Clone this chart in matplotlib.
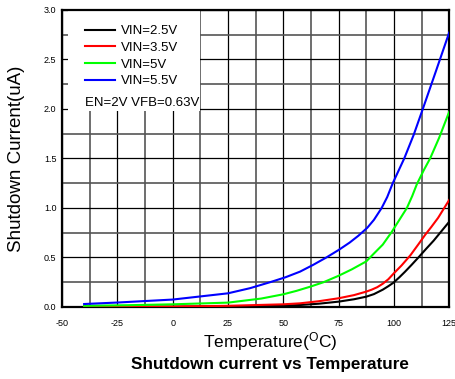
import matplotlib
matplotlib.use("Agg")
import matplotlib.pyplot as plt
from matplotlib.patches import Rectangle
from matplotlib.ticker import MultipleLocator

plt.rcParams['font.family'] = ['Liberation Sans', 'DejaVu Sans']

# Shutdown current (uA) versus temperature (degC) for each input voltage
temp_25 = [-40, 0, 25, 50, 57.6, 66, 75, 82, 87.5, 91, 95, 97.5, 99.8, 102.5, 105,
           108, 111.1, 114.5, 118, 121.5, 125]
cur_25 = [0.001, 0.003, 0.006, 0.014, 0.02, 0.033, 0.054, 0.078, 0.104, 0.13, 0.175,
          0.21, 0.245, 0.3, 0.355, 0.425, 0.5, 0.585, 0.67, 0.765, 0.86]

temp_35 = [-40, 0, 25, 50, 57.6, 66, 75, 82, 87.5, 90, 92.5, 95, 97.5, 100, 103.5,
           107.4, 111, 114.2, 117, 120, 122.5, 125]
cur_35 = [0.003, 0.005, 0.012, 0.027, 0.037, 0.058, 0.088, 0.12, 0.155, 0.175, 0.2,
          0.235, 0.28, 0.34, 0.42, 0.52, 0.63, 0.73, 0.81, 0.9, 0.99, 1.08]

temp_50 = [-40, -20, 0, 25, 40, 50, 56, 62.2, 68.2, 75, 81, 87.5, 91, 95, 99.1,
           102.5, 105.9, 108.3, 110.4, 113.5, 116.4, 120.5, 125]
cur_50 = [0.012, 0.018, 0.027, 0.044, 0.085, 0.128, 0.163, 0.205, 0.25, 0.315, 0.38,
          0.46, 0.54, 0.63, 0.76, 0.88, 1.0, 1.12, 1.24, 1.38, 1.5, 1.71, 1.97]

temp_55 = [-40, -25, 0, 25, 35, 44, 51, 57.6, 63.5, 69.5, 75, 80, 84, 88, 91, 94.5,
           97, 99.5, 102, 104.7, 109, 113.1, 119, 125]
cur_55 = [0.03, 0.045, 0.075, 0.138, 0.19, 0.25, 0.3, 0.357, 0.425, 0.5, 0.575, 0.65,
          0.72, 0.8, 0.88, 1.0, 1.11, 1.25, 1.37, 1.5, 1.74, 2.0, 2.38, 2.77]

series = [
    ("VIN=2.5V", temp_25, cur_25, "black"),
    ("VIN=3.5V", temp_35, cur_35, "#ff0000"),
    ("VIN=5V", temp_50, cur_50, "#00ff00"),
    ("VIN=5.5V", temp_55, cur_55, "#0000ff"),
]

x_ticks = [-50, -25, 0, 25, 50, 75, 100, 125]
y_ticks = [0.0, 0.5, 1.0, 1.5, 2.0, 2.5, 3.0]

fig = plt.figure(figsize=(4.56, 3.79), dpi=100)
ax = fig.add_axes([0.136, 0.19, 0.849, 0.784])

ax.set_xlim(-50, 125)
ax.set_ylim(0, 3.0)
ax.set_xticks(x_ticks)
ax.set_yticks(y_ticks)
ax.set_xticklabels([str(v) for v in x_ticks])
ax.set_yticklabels([f"{v:.1f}" for v in y_ticks])
ax.xaxis.set_minor_locator(MultipleLocator(12.5))
ax.yaxis.set_minor_locator(MultipleLocator(0.25))
ax.tick_params(which='both', length=0, labelsize=6.5, pad=4)
ax.tick_params(axis='x', pad=9)

ax.set_axisbelow(True)
ax.grid(which='major', color='black', lw=0.9)
ax.grid(which='minor', color='#555555', lw=1.2)

for s in ax.spines.values():
    s.set_linewidth(1.6)
    s.set_color('black')

# white panel behind the legend
ax.add_patch(Rectangle((0.0155, 0.66), 0.3415, 0.34, transform=ax.transAxes,
                       facecolor='white', edgecolor='none', zorder=1))

handles = []
for label, t, c, col in series:
    h, = ax.plot(t, c, color=col, lw=1.5, label=label, zorder=3,
                 solid_joinstyle='round')
    handles.append(h)

ax.legend(handles=handles, loc='upper left', bbox_to_anchor=(0.059, 0.949),
          frameon=False, fontsize=9.5, handlelength=2.27, handletextpad=0.5,
          labelspacing=0.34, borderaxespad=0, borderpad=0)
ax.text(0.059, 0.688, "EN=2V VFB=0.63V", transform=ax.transAxes,
        fontsize=9.5, ha='left', va='center', zorder=4)

ax.set_ylabel("Shutdown Current(uA)", fontsize=13.5, labelpad=14)
fig.text(0.592, 0.0976, r"Temperature($\mathregular{^O}$C)", fontsize=12.5,
         ha='center', va='center')
fig.text(0.592, 0.037, "Shutdown current vs Temperature",
         fontsize=12.3, fontweight='bold', ha='center', va='center')

fig.savefig("out.png", dpi=100)
